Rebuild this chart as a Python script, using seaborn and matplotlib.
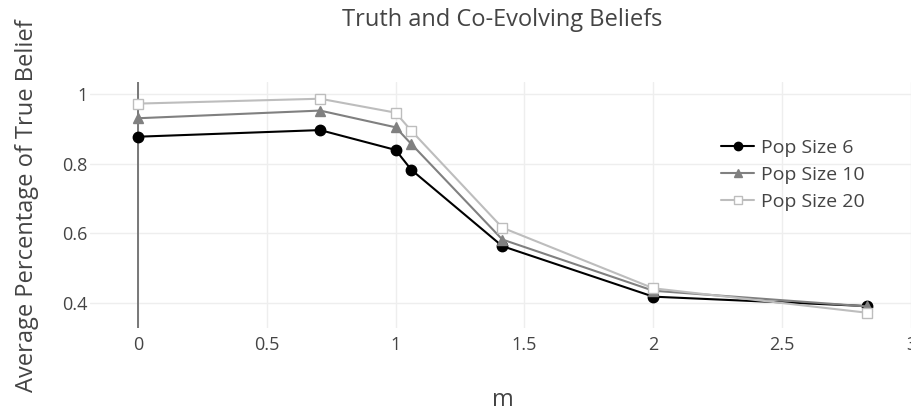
import numpy as np
import pandas as pd
import matplotlib
matplotlib.use("Agg")
import matplotlib.pyplot as plt
import seaborn as sns

# values
m_values = [0, 0.707, 1.0, 1.061, 1.414, 2.0, 2.828]
pop6 = [0.877, 0.896, 0.839, 0.782, 0.563, 0.418, 0.391]
pop10 = [0.930, 0.952, 0.904, 0.856, 0.582, 0.435, 0.390]
pop20 = [0.972, 0.986, 0.946, 0.894, 0.616, 0.442, 0.372]
series_names = ["Pop Size 6", "Pop Size 10", "Pop Size 20"]

df = pd.DataFrame({
    "m": m_values * 3,
    "value": pop6 + pop10 + pop20,
    "series": np.repeat(series_names, len(m_values)),
})

sns.set_theme(style="white")
plt.rcParams['font.family'] = ['Open Sans', 'DejaVu Sans']

fig = plt.figure(figsize=(9.11, 4.15), dpi=100)
ax = fig.add_axes([0.0988, 0.2096, 0.9012, 0.5928])

styles = {
    "Pop Size 6": dict(color="#000000", marker="o", ms=7.5, mfc="#000000", mec="#000000"),
    "Pop Size 10": dict(color="#808080", marker="^", ms=7.5, mfc="#808080", mec="#808080"),
    "Pop Size 20": dict(color="#bdbdbd", marker="s", ms=6.5, mfc="white", mec="#bdbdbd"),
}

for name in series_names:
    st = styles[name]
    sub = df[df["series"] == name]
    sns.lineplot(data=sub, x="m", y="value", ax=ax, label=name,
                 color=st["color"], marker=st["marker"], markersize=st["ms"],
                 markerfacecolor=st["mfc"], markeredgecolor=st["mec"],
                 markeredgewidth=1.0, linewidth=1.5, zorder=3)

ax.set_xlim(-0.186, 3.0)
ax.set_ylim(0.328, 1.034)
ax.set_xticks([0, 0.5, 1, 1.5, 2, 2.5, 3])
ax.set_xticklabels(["0", "0.5", "1", "1.5", "2", "2.5", "3"])
ax.set_yticks([0.4, 0.6, 0.8, 1.0])
ax.set_yticklabels(["0.4", "0.6", "0.8", "1"])
ax.grid(True, color="#eeeeee", linewidth=1)
ax.axvline(0, color="#6e6e6e", linewidth=1.3, zorder=2)
for s in ax.spines.values():
    s.set_visible(False)
ax.tick_params(axis="both", length=0, labelsize=13, labelcolor="#444444")
ax.tick_params(axis="y", pad=2)
ax.tick_params(axis="x", pad=6)
ax.set_xlabel("")
ax.set_ylabel("")

fig.text(503 / 911, 1 - 400 / 415, "m", ha="center", va="center",
         fontsize=17, color="#444444")
fig.text(27 / 911, 1 - 206 / 415, "Average Percentage of True Belief", ha="center",
         va="center", rotation=90, fontsize=17, color="#444444")
fig.text(502 / 911, 1 - 20 / 415, "Truth and Co-Evolving Beliefs", ha="center", va="center",
         fontsize=17, color="#444444")

leg = ax.legend(loc="center left", bbox_to_anchor=(0.781, 1 - 175 / 415),
                bbox_transform=fig.transFigure, frameon=False, fontsize=14,
                handlelength=1.7, labelspacing=0.45, handletextpad=0.35, borderpad=0)
for t in leg.get_texts():
    t.set_color("#444444")
for h in leg.legend_handles:
    h.set_markersize(6)

fig.savefig("out.png", dpi=100)
